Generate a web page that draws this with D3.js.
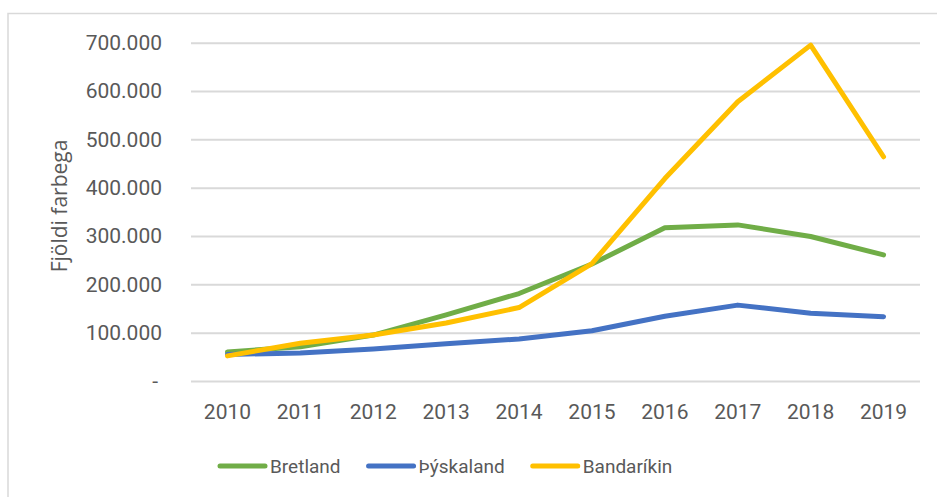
<!DOCTYPE html>
<html>
<head>
<meta charset="utf-8">
<script src="https://cdn.jsdelivr.net/npm/d3@7"></script>
<style>
  body { margin: 0; background: #fff; }
  text { fill: #595959; }
</style>
</head>
<body>
<svg id="chart" width="937" height="497"></svg>
<script>
// data (passengers per year)
const years = ["2010", "2011", "2012", "2013", "2014", "2015", "2016", "2017", "2018", "2019"]
const bretland = [60000, 71000, 95000, 137000, 181000, 242000, 317000, 323000, 299000, 261000]
const thyskaland = [55000, 58000, 66000, 77000, 87000, 104000, 134000, 157000, 140000, 133000]
const bandarikin = [52000, 78000, 95000, 120000, 152000, 243000, 419000, 578000, 695000, 464000]
const yTicks = [0, 100000, 200000, 300000, 400000, 500000, 600000, 700000]
const yTitle = "Fjöldi farbega"

const seriesList = [
    {name: "Bretland", values: bretland, color: "#70ad47"},
    {name: "Þýskaland", values: thyskaland, color: "#4472c4"},
    {name: "Bandaríkin", values: bandarikin, color: "#ffc000"}
]

const svg = d3.select("#chart")

// outer frame of the chart object
svg.append("rect")
    .attr("x", 8).attr("y", 13.5)
    .attr("width", 960).attr("height", 520)
    .attr("fill", "none")
    .attr("stroke", "#d9d9d9")
    .attr("stroke-width", 1.5)

const plotLeft = 191, plotRight = 920, plotTop = 42.7, plotBottom = 381

const x = d3.scaleBand().domain(years).range([plotLeft, plotRight]).paddingInner(0).paddingOuter(0)
const y = d3.scaleLinear().domain([0, 700000]).range([plotBottom, plotTop])

const fmt = function (d) {
    if (d === 0) return "-"
    return d3.format(",")(d).replace(/,/g, ".")
}

// gridlines
const grid = svg.append("g")
    .attr("transform", "translate(" + plotLeft + ",0)")
    .call(d3.axisLeft(y).tickValues(yTicks).tickSize(-(plotRight - plotLeft)).tickFormat(""))
grid.select(".domain").remove()
grid.selectAll("line").attr("stroke", "#d9d9d9").attr("stroke-width", 2)

// y labels
const yAxis = svg.append("g")
    .attr("transform", "translate(" + (plotLeft - 29) + ",0)")
    .call(d3.axisLeft(y).tickValues(yTicks).tickSize(0).tickPadding(0).tickFormat(fmt))
yAxis.select(".domain").remove()
yAxis.selectAll("text")
    .attr("font-family", "Roboto")
    .attr("font-size", 21)
    .attr("fill", "#595959")
// the zero label ("-") sits a little left of the right edge
yAxis.selectAll(".tick").filter(d => d === 0).select("text").attr("x", -4)

// x labels
const xAxis = svg.append("g")
    .attr("transform", "translate(0," + plotBottom + ")")
    .call(d3.axisBottom(x).tickSize(0).tickPadding(23))
xAxis.select(".domain").remove()
xAxis.selectAll("text")
    .attr("font-family", "Roboto")
    .attr("font-size", 21)
    .attr("fill", "#595959")

// axis title
svg.append("text")
    .attr("transform", "translate(67,206) rotate(-90)")
    .attr("text-anchor", "middle")
    .attr("font-family", "Open Sans")
    .attr("font-size", 21)
    .text(yTitle)

// lines
const line = d3.line()
    .x((d, i) => x(years[i]) + x.bandwidth() / 2)
    .y(d => y(d))

svg.append("g").selectAll("path")
    .data(seriesList)
    .join("path")
    .attr("d", s => line(s.values))
    .attr("fill", "none")
    .attr("stroke", s => s.color)
    .attr("stroke-width", 5)
    .attr("stroke-linecap", "round")
    .attr("stroke-linejoin", "round")

// legend
const legend = svg.append("g").attr("transform", "translate(218,466)")
let lx = 0
seriesList.forEach(function (s) {
    const g = legend.append("g").attr("transform", "translate(" + lx + ",0)")
    g.append("line")
        .attr("x1", 2).attr("x2", 47)
        .attr("stroke", s.color)
        .attr("stroke-width", 5)
        .attr("stroke-linecap", "round")
    const t = g.append("text")
        .attr("x", 52)
        .attr("dy", "0.35em")
        .attr("font-family", "Roboto")
        .attr("font-size", 19)
        .text(s.name)
    lx += 52 + t.node().getComputedTextLength() + 26
})
</script>
</body>
</html>
